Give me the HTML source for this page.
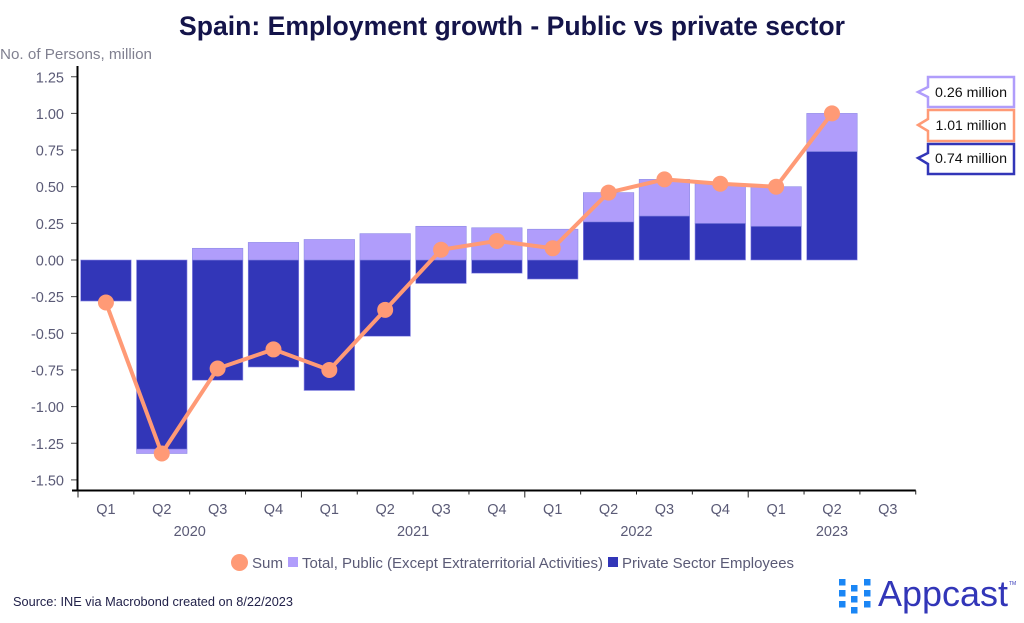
<!DOCTYPE html>
<html lang="en">
<head>
<meta charset="utf-8">
<title>Spain: Employment growth</title>
<style>
html,body{margin:0;padding:0;background:#fff;}
svg{display:block;font-family:"Liberation Sans",sans-serif;}
</style>
</head>
<body>
<svg id="chart" width="1024" height="623" viewBox="0 0 1024 623" xmlns="http://www.w3.org/2000/svg">
<text x="512" y="35" text-anchor="middle" font-size="27" font-weight="700" fill="#14144a" textLength="666" lengthAdjust="spacingAndGlyphs">Spain: Employment growth - Public vs private sector</text>
<text x="0" y="59" font-size="15" fill="#808090" textLength="152" lengthAdjust="spacingAndGlyphs">No. of Persons, million</text>
<g id="bars"></g>
<g id="axes"></g>
<g id="line"></g>
<g>
  <circle cx="239.500" cy="562.500" r="8.500" fill="#ff9a76"/>
  <text x="252" y="568" font-size="15" fill="#5a5a76" textLength="31" lengthAdjust="spacingAndGlyphs">Sum</text>
  <rect x="288" y="557" width="10" height="10" fill="#b09dfb"/>
  <text x="302" y="568" font-size="15" fill="#5a5a76" textLength="301" lengthAdjust="spacingAndGlyphs">Total, Public (Except Extraterritorial Activities)</text>
  <rect x="608" y="557" width="10" height="10" fill="#3236b8"/>
  <text x="622" y="568" font-size="15" fill="#5a5a76" textLength="172" lengthAdjust="spacingAndGlyphs">Private Sector Employees</text>
</g>
<g>
  <path d="M928 77H1014V107H928V97L918 92L928 87Z" fill="#fff" stroke="#b09dfb" stroke-width="2.500"/>
  <text x="971" y="97" text-anchor="middle" font-size="13.500" fill="#111" textLength="72" lengthAdjust="spacingAndGlyphs">0.26 million</text>
  <path d="M928 110H1014V141H928V131L918 125L928 119Z" fill="#fff" stroke="#ff9a76" stroke-width="2.500"/>
  <text x="971" y="130" text-anchor="middle" font-size="13.500" fill="#111" textLength="71" lengthAdjust="spacingAndGlyphs">1.01 million</text>
  <path d="M928 144H1014V174H928V164L918 158L928 153Z" fill="#fff" stroke="#3236b8" stroke-width="2.500"/>
  <text x="971" y="163" text-anchor="middle" font-size="13.500" fill="#111" textLength="72" lengthAdjust="spacingAndGlyphs">0.74 million</text>
</g>
<text x="13" y="606" font-size="12.500" fill="#22224a" textLength="280" lengthAdjust="spacingAndGlyphs">Source: INE via Macrobond created on 8/22/2023</text>
<g>
  <g fill="#1a86f5">
    <rect x="839" y="579" width="6.500" height="6.500"/><rect x="839" y="590" width="6.500" height="6.500"/><rect x="839" y="601" width="6.500" height="6.500"/>
    <rect x="851" y="585" width="6.500" height="6.500"/><rect x="851" y="596" width="6.500" height="6.500"/><rect x="851" y="607" width="6.500" height="6.500"/>
    <rect x="864" y="579" width="6.500" height="6.500"/><rect x="864" y="590" width="6.500" height="6.500"/><rect x="864" y="601" width="6.500" height="6.500"/>
  </g>
  <text x="878" y="606" font-size="36" fill="#3236b8" textLength="130" lengthAdjust="spacingAndGlyphs">Appcast</text>
  <text x="1009" y="585" font-size="5" fill="#3236b8">TM</text>
</g>
</svg>
<script>
const quarters = ["Q1","Q2","Q3","Q4","Q1","Q2","Q3","Q4","Q1","Q2","Q3","Q4","Q1","Q2","Q3"];
const years = ["2020","2021","2022","2023"];
const yearSpans = [4,4,4,3];
const privateValues = [-0.28,-1.29,-0.82,-0.73,-0.89,-0.52,-0.16,-0.09,-0.13,0.26,0.30,0.25,0.23,0.74];
const publicValues = [0,-0.03,0.08,0.12,0.14,0.18,0.23,0.22,0.21,0.20,0.25,0.27,0.27,0.26];
const sumValues = [-0.29,-1.32,-0.74,-0.61,-0.75,-0.34,0.07,0.13,0.08,0.46,0.55,0.52,0.50,1.00];
const yTicks = [1.25,1,0.75,0.5,0.25,0,-0.25,-0.5,-0.75,-1,-1.25,-1.5];

const NS = "http://www.w3.org/2000/svg";
const band = 55.85;
const x0 = 78;
const baseY = 490.5;
function xPos(i){ return x0 + band * i; }
function yPos(v){ return 260 - v * 146.6; }
function make(parent, tag, attrs, text){
  const el = document.createElementNS(NS, tag);
  for (const k in attrs) el.setAttribute(k, attrs[k]);
  if (text !== undefined) el.textContent = text;
  parent.appendChild(el);
  return el;
}
const barsG = document.getElementById("bars");
const axesG = document.getElementById("axes");
const lineG = document.getElementById("line");
const barW = 50.5;

function drawBar(i, from, to, fill, name){
  const a = yPos(from), b = yPos(to);
  const el = make(barsG, "rect", {x: xPos(i) + (band - barW) / 2, y: Math.min(a, b), width: barW, height: Math.abs(a - b), fill: fill, stroke: "#8e8be6", "stroke-width": 0.6});
  
  
}
privateValues.forEach(function(p, i){
  const q = publicValues[i];
  const pubStart = (q >= 0) === (p >= 0) ? p : 0;
  if (q !== 0) drawBar(i, pubStart, pubStart + q, "#b09dfb", "public-bar");
  drawBar(i, 0, p, "#3236b8", "private-bar");
});

yTicks.forEach(function(v){
  const y = yPos(v);
  const tick = make(axesG, "line", {x1: 71, x2: 78, y1: y, y2: y, stroke: "#444", "stroke-width": 1});
  
  
  const label = make(axesG, "text", {x: 64, y: y + 5.500, "text-anchor": "end", "font-size": 14.500, fill: "#5a5a76"}, v.toFixed(2));
  
  
});
const yAxis = make(axesG, "line", {x1: 77.500, x2: 77.500, y1: 66, y2: 491, stroke: "#000", "stroke-width": 2});


const xAxis = make(axesG, "line", {x1: 72, x2: x0 + band * quarters.length, y1: baseY, y2: baseY, stroke: "#000", "stroke-width": 2});



const yearBoundaries = [0];
yearSpans.forEach(function(s){ yearBoundaries.push(yearBoundaries[yearBoundaries.length - 1] + s); });
for (let i = 0; i <= quarters.length; i++) {
  const major = yearBoundaries.indexOf(i) >= 0 && i < quarters.length;
  const t = make(axesG, "line", {x1: xPos(i), x2: xPos(i), y1: baseY, y2: baseY + (major ? 7 : 4), stroke: "#222", "stroke-width": 1});
  
  
}
quarters.forEach(function(q, i){
  const el = make(axesG, "text", {x: xPos(i) + band / 2, y: 514, "text-anchor": "middle", "font-size": 14.500, fill: "#5a5a76"}, q);
  
  
});
years.forEach(function(yr, i){
  const mid = (yearBoundaries[i] + yearBoundaries[i] + yearSpans[i]) / 2;
  const el = make(axesG, "text", {x: xPos(mid), y: 536, "text-anchor": "middle", "font-size": 14.500, fill: "#5a5a76"}, yr);
  
  
});

const pts = sumValues.map(function(v, i){ return (xPos(i) + band / 2) + "," + yPos(v); }).join(" ");
const poly = make(lineG, "polyline", {points: pts, fill: "none", stroke: "#ff9a76", "stroke-width": 4});


sumValues.forEach(function(v, i){
  const c = make(lineG, "circle", {cx: xPos(i) + band / 2, cy: yPos(v), r: 8, fill: "#ff9a76"});
  
  
});
</script>
</body>
</html>
